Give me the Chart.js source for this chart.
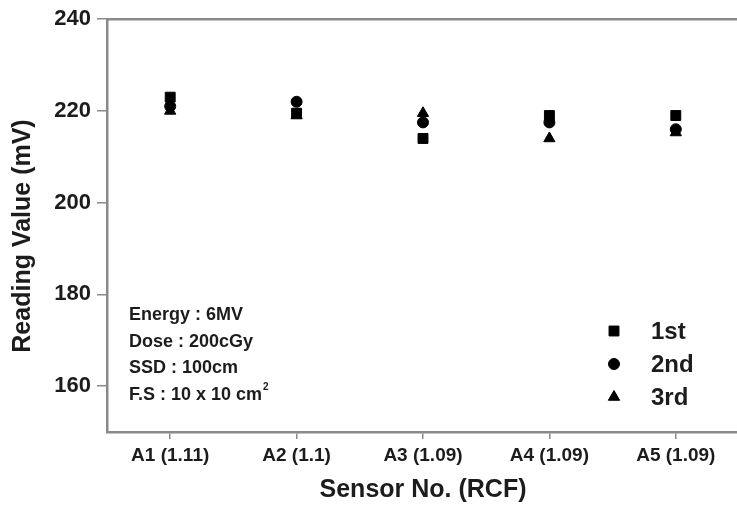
<!DOCTYPE html>
<html>
<head>
<meta charset="utf-8">
<script src="https://cdn.jsdelivr.net/npm/chart.js@4/dist/chart.umd.min.js"></script>
<style>
    html, body { margin: 0; padding: 0; background: #fff; overflow: hidden; }
    #chartDiv { position: relative; width: 747px; height: 513px; }
</style>
</head>
<body>
<div id="chartDiv"><canvas id="readingChart"></canvas></div>
<script>
"use strict";

// sensor categories with their RCF
const sensors = ['A1 (1.11)', 'A2 (1.1)', 'A3 (1.09)', 'A4 (1.09)', 'A5 (1.09)'];

// reading values (mV) for each measurement run
const run1st = [223, 219.5, 214, 219, 219];
const run2nd = [221, 222, 217.5, 217.5, 216];
const run3rd = [220, 219, 219.5, 214, 215.3];

const yTicks = [160, 180, 200, 220, 240];
const yTitle = 'Reading Value (mV)';

// irradiation conditions shown in the lower left
const conditions = ['Energy : 6MV', 'Dose : 200cGy', 'SSD : 100cm', 'F.S : 10 x 10 cm'];
const conditionSup = ['', '', '', '2'];

const fontFamily = '"Liberation Sans", Arial, sans-serif';
const textColor = '#1c1c1c';
const axisColor = '#8a8a8a';

//legend drawn inside the plot, lower right
const innerLegend = {
    id: 'innerLegend',
    afterDatasetsDraw(chart) {
        const ctx = chart.ctx;
        const x = 614;
        const yStart = 331;
        const step = 33;
        ctx.save();
        chart.data.datasets.forEach((ds, i) => {
            const y = yStart + i * step;
            ctx.fillStyle = ds.backgroundColor;
            ctx.strokeStyle = ds.borderColor;
            Chart.helpers.drawPoint(ctx, {
                pointStyle: ds.pointStyle,
                radius: ds.pointRadius,
                rotation: 0,
                borderWidth: 1
            }, x, y);
            ctx.fillStyle = textColor;
            ctx.font = 'bold 24px ' + fontFamily;
            ctx.textBaseline = 'middle';
            ctx.textAlign = 'left';
            ctx.fillText(ds.label, 651, y + 1);
        });
        ctx.restore();
    }
};

//conditions text block and the y title (which sits a bit below the axis centre)
const extraText = {
    id: 'extraText',
    afterDatasetsDraw(chart) {
        const ctx = chart.ctx;
        ctx.save();
        ctx.fillStyle = textColor;
        ctx.textBaseline = 'middle';
        ctx.textAlign = 'left';
        conditions.forEach((line, i) => {
            const y = 315 + i * 26.7;
            ctx.font = 'bold 18px ' + fontFamily;
            ctx.fillText(line, 129, y);
            if (conditionSup[i]) {
                const w = ctx.measureText(line).width;
                ctx.font = 'bold 10px ' + fontFamily;
                ctx.fillText(conditionSup[i], 129 + w + 1, y - 8);
            }
        });
        ctx.translate(23, 236);
        ctx.rotate(-Math.PI / 2);
        ctx.textAlign = 'center';
        ctx.font = 'bold 25px ' + fontFamily;
        ctx.fillText(yTitle, 0, 0);
        ctx.restore();
    }
};

const ctx = document.getElementById('readingChart').getContext('2d');
const readingChart = new Chart(ctx, {
    type: 'scatter',
    data: {
        labels: sensors,
        datasets: [
            {
                label: '1st',
                data: run1st,
                pointStyle: 'rect',
                pointRadius: 7,
                backgroundColor: '#000',
                borderColor: '#000',
                borderWidth: 1
            },
            {
                label: '2nd',
                data: run2nd,
                pointStyle: 'circle',
                pointRadius: 5.5,
                backgroundColor: '#000',
                borderColor: '#000',
                borderWidth: 1
            },
            {
                label: '3rd',
                data: run3rd,
                pointStyle: 'triangle',
                pointRadius: 6.5,
                backgroundColor: '#000',
                borderColor: '#000',
                borderWidth: 1
            }
        ]
    },
    options: {
        responsive: true,
        maintainAspectRatio: false,
        animation: false,
        layout: {
            padding: { left: 0, top: 17, right: 0, bottom: 0 }
        },
        plugins: {
            legend: { display: false },
            tooltip: { enabled: false }
        },
        scales: {
            x: {
                type: 'category',
                position: 'bottom',
                offset: true,
                grid: {
                    display: true,
                    drawOnChartArea: false,
                    drawTicks: true,
                    tickLength: 7,
                    color: axisColor,
                    lineWidth: 1.5,
                    offset: false
                },
                border: { display: true, color: axisColor, width: 2.5 },
                ticks: {
                    color: textColor,
                    padding: 5,
                    maxRotation: 0,
                    font: { family: fontFamily, size: 19, weight: 'bold' }
                },
                title: {
                    display: true,
                    text: 'Sensor No. (RCF)',
                    color: textColor,
                    padding: { top: 0, bottom: 8 },
                    font: { family: fontFamily, size: 25, weight: 'bold' }
                },
                afterFit: (scale) => { scale.height = 81; }
            },
            xTop: {
                type: 'category',
                labels: sensors,
                position: 'top',
                grid: { display: false },
                border: { display: true, color: axisColor, width: 2.5 },
                ticks: { display: false },
                afterFit: (scale) => { scale.height = 0; }
            },
            y: {
                type: 'linear',
                min: 150,
                max: 240,
                afterBuildTicks: (scale) => {
                    scale.ticks = yTicks.map(v => ({ value: v }));
                },
                grid: {
                    display: true,
                    drawOnChartArea: false,
                    drawTicks: true,
                    tickLength: 10,
                    color: axisColor,
                    lineWidth: 1.5
                },
                border: { display: true, color: axisColor, width: 2.5 },
                ticks: {
                    color: textColor,
                    padding: 6,
                    font: { family: fontFamily, size: 22, weight: 'bold' }
                },
                title: { display: false },
                afterFit: (scale) => { scale.width = 107; }
            }
        }
    },
    plugins: [innerLegend, extraText]
});
</script>
</body>
</html>
